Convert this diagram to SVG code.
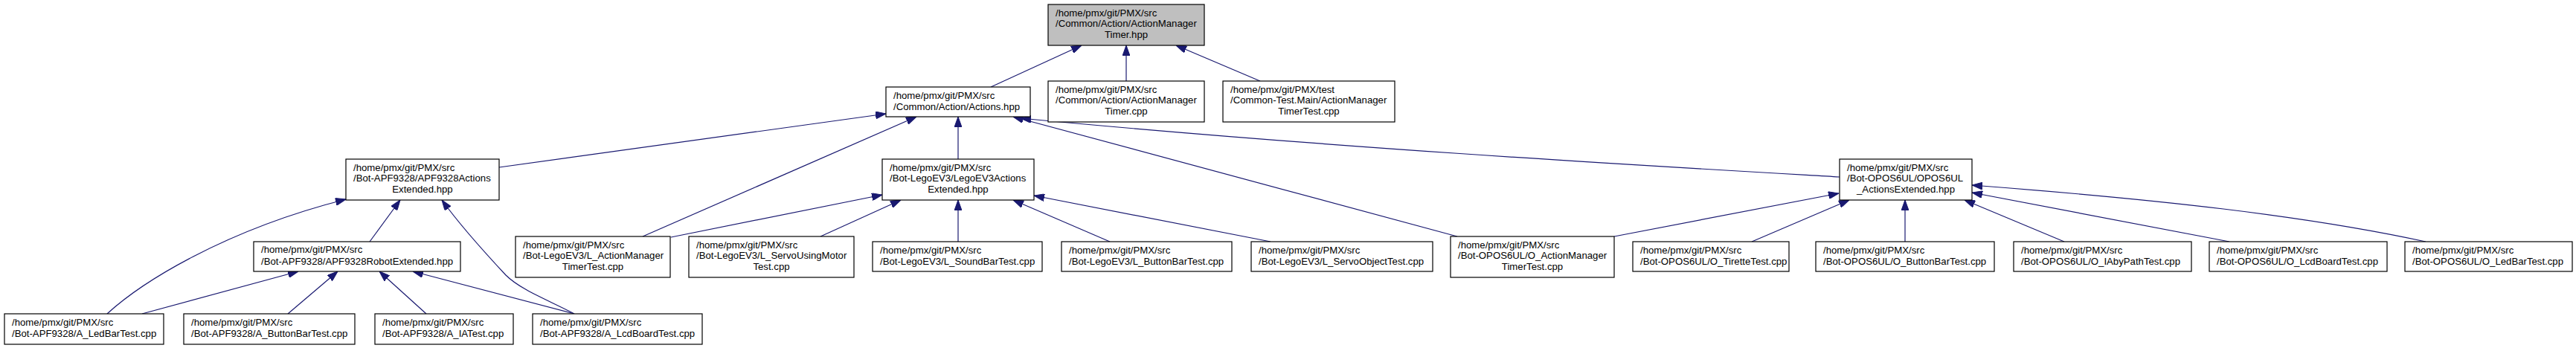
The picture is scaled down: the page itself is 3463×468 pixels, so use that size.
<svg xmlns="http://www.w3.org/2000/svg" width="3463" height="468" viewBox="0 0 3463 468">
<style>
.n rect{fill:#fff;stroke:#000;stroke-width:1.2}
.n.root rect{fill:#bfbfbf}
.n text{font-family:"Liberation Sans",Arial,Helvetica,sans-serif;font-size:13.2px;fill:#000}
.n text.c{text-anchor:middle}
#edges path{fill:none;stroke:#191970;stroke-width:1.2}
</style>
<defs>
<marker id="ah" markerUnits="userSpaceOnUse" markerWidth="14" markerHeight="10" viewBox="0 0 14 10" refX="14" refY="5" orient="auto">
<path d="M0,0 L14,5 L0,10 z" fill="#191970" stroke="#191970" stroke-width="1"/>
</marker>
</defs>
<rect width="3463" height="468" fill="#fff"/>
<g id="edges">
<path d="M1332,117 L1454,61" marker-end="url(#ah)"/>
<path d="M1514,109 L1514,61" marker-end="url(#ah)"/>
<path d="M1694,109 L1581,61" marker-end="url(#ah)"/>
<path d="M671,225 L1191,153" marker-end="url(#ah)"/>
<path d="M1288,214 L1288,157" marker-end="url(#ah)"/>
<path d="M864,318 L1232,157" marker-end="url(#ah)"/>
<path d="M1959,318 L1362,157" marker-end="url(#ah)"/>
<path d="M2473,238 C2250,225 1800,200 1372,159" marker-end="url(#ah)"/>
<path d="M902,319 L1186,262" marker-end="url(#ah)"/>
<path d="M1103,318 L1211,269" marker-end="url(#ah)"/>
<path d="M1288,325 L1288,269" marker-end="url(#ah)"/>
<path d="M1492,325 L1362,269" marker-end="url(#ah)"/>
<path d="M1708,325 L1390,263" marker-end="url(#ah)"/>
<path d="M497,325 L538,269" marker-end="url(#ah)"/>
<path d="M144,422 C190,380 300,310 465,268" marker-end="url(#ah)"/>
<path d="M772,422 C740,405 700,390 680,370 C652,340 620,305 594,269" marker-end="url(#ah)"/>
<path d="M191,422 L401,365" marker-end="url(#ah)"/>
<path d="M387,422 L454,365" marker-end="url(#ah)"/>
<path d="M573,422 L510,365" marker-end="url(#ah)"/>
<path d="M772,422 L555,365" marker-end="url(#ah)"/>
<path d="M2170,318 L2472,260" marker-end="url(#ah)"/>
<path d="M2355,325 L2486,269" marker-end="url(#ah)"/>
<path d="M2561,325 L2561,269" marker-end="url(#ah)"/>
<path d="M2775,325 L2641,269" marker-end="url(#ah)"/>
<path d="M2997,325 L2651,259" marker-end="url(#ah)"/>
<path d="M3261,325 C3100,290 2900,268 2651,249" marker-end="url(#ah)"/>
</g>
<g id="n_root" class="n root"><rect x="1409" y="6" width="210" height="55"/><text x="1419" y="21.5">/home/pmx/git/PMX/src</text><text x="1419" y="36">/Common/Action/ActionManager</text><text class="c" x="1514" y="50.5">Timer.hpp</text></g>
<g id="n_actions" class="n"><rect x="1191" y="117" width="194" height="40"/><text x="1201" y="132.5">/home/pmx/git/PMX/src</text><text x="1201" y="147.5">/Common/Action/Actions.hpp</text></g>
<g id="n_amtcpp" class="n"><rect x="1409" y="109" width="210" height="55"/><text x="1419" y="124.5">/home/pmx/git/PMX/src</text><text x="1419" y="139">/Common/Action/ActionManager</text><text class="c" x="1514" y="153.5">Timer.cpp</text></g>
<g id="n_commontest" class="n"><rect x="1644" y="109" width="231" height="55"/><text x="1654" y="124.5">/home/pmx/git/PMX/test</text><text x="1654" y="139">/Common-Test.Main/ActionManager</text><text class="c" x="1759.5" y="153.5">TimerTest.cpp</text></g>
<g id="n_apfactions" class="n"><rect x="465" y="214" width="206" height="55"/><text x="475" y="229.5">/home/pmx/git/PMX/src</text><text x="475" y="244">/Bot-APF9328/APF9328Actions</text><text class="c" x="568" y="258.5">Extended.hpp</text></g>
<g id="n_legoactions" class="n"><rect x="1186" y="214" width="204" height="55"/><text x="1196" y="229.5">/home/pmx/git/PMX/src</text><text x="1196" y="244">/Bot-LegoEV3/LegoEV3Actions</text><text class="c" x="1288" y="258.5">Extended.hpp</text></g>
<g id="n_oposactions" class="n"><rect x="2473" y="214" width="178" height="55"/><text x="2483" y="229.5">/home/pmx/git/PMX/src</text><text x="2483" y="244">/Bot-OPOS6UL/OPOS6UL</text><text class="c" x="2562" y="258.5">_ActionsExtended.hpp</text></g>
<g id="n_apfrobot" class="n"><rect x="341" y="325" width="278" height="40"/><text x="351" y="340">/home/pmx/git/PMX/src</text><text x="351" y="355.5">/Bot-APF9328/APF9328RobotExtended.hpp</text></g>
<g id="n_lamtt" class="n"><rect x="693" y="318" width="208" height="55"/><text x="703" y="333.5">/home/pmx/git/PMX/src</text><text x="703" y="348">/Bot-LegoEV3/L_ActionManager</text><text class="c" x="797" y="362.5">TimerTest.cpp</text></g>
<g id="n_lservomotor" class="n"><rect x="926" y="318" width="222" height="55"/><text x="936" y="333.5">/home/pmx/git/PMX/src</text><text x="936" y="348">/Bot-LegoEV3/L_ServoUsingMotor</text><text class="c" x="1037" y="362.5">Test.cpp</text></g>
<g id="n_lsound" class="n"><rect x="1173" y="325" width="228" height="40"/><text x="1183" y="340.5">/home/pmx/git/PMX/src</text><text x="1183" y="355.5">/Bot-LegoEV3/L_SoundBarTest.cpp</text></g>
<g id="n_lbutton" class="n"><rect x="1427" y="325" width="229" height="40"/><text x="1437" y="340.5">/home/pmx/git/PMX/src</text><text x="1437" y="355.5">/Bot-LegoEV3/L_ButtonBarTest.cpp</text></g>
<g id="n_lservoobj" class="n"><rect x="1682" y="325" width="244" height="40"/><text x="1692" y="340.5">/home/pmx/git/PMX/src</text><text x="1692" y="355.5">/Bot-LegoEV3/L_ServoObjectTest.cpp</text></g>
<g id="n_oamtt" class="n"><rect x="1950" y="318" width="220" height="55"/><text x="1960" y="333.5">/home/pmx/git/PMX/src</text><text x="1960" y="348">/Bot-OPOS6UL/O_ActionManager</text><text class="c" x="2060" y="362.5">TimerTest.cpp</text></g>
<g id="n_otirette" class="n"><rect x="2195" y="325" width="210" height="40"/><text x="2205" y="340.5">/home/pmx/git/PMX/src</text><text x="2205" y="355.5">/Bot-OPOS6UL/O_TiretteTest.cpp</text></g>
<g id="n_obutton" class="n"><rect x="2441" y="325" width="240" height="40"/><text x="2451" y="340.5">/home/pmx/git/PMX/src</text><text x="2451" y="355.5">/Bot-OPOS6UL/O_ButtonBarTest.cpp</text></g>
<g id="n_oiabypath" class="n"><rect x="2707" y="325" width="239" height="40"/><text x="2717" y="340.5">/home/pmx/git/PMX/src</text><text x="2717" y="355.5">/Bot-OPOS6UL/O_IAbyPathTest.cpp</text></g>
<g id="n_olcd" class="n"><rect x="2970" y="325" width="239" height="40"/><text x="2980" y="340.5">/home/pmx/git/PMX/src</text><text x="2980" y="355.5">/Bot-OPOS6UL/O_LcdBoardTest.cpp</text></g>
<g id="n_oled" class="n"><rect x="3233" y="325" width="225" height="40"/><text x="3243" y="340.5">/home/pmx/git/PMX/src</text><text x="3243" y="355.5">/Bot-OPOS6UL/O_LedBarTest.cpp</text></g>
<g id="n_aled" class="n"><rect x="6" y="422" width="214" height="41"/><text x="16" y="437.5">/home/pmx/git/PMX/src</text><text x="16" y="452.5">/Bot-APF9328/A_LedBarTest.cpp</text></g>
<g id="n_abutton" class="n"><rect x="247" y="422" width="230" height="41"/><text x="257" y="437.5">/home/pmx/git/PMX/src</text><text x="257" y="452.5">/Bot-APF9328/A_ButtonBarTest.cpp</text></g>
<g id="n_aia" class="n"><rect x="504" y="422" width="186" height="41"/><text x="514" y="437.5">/home/pmx/git/PMX/src</text><text x="514" y="452.5">/Bot-APF9328/A_IATest.cpp</text></g>
<g id="n_alcd" class="n"><rect x="716" y="422" width="228" height="41"/><text x="726" y="437.5">/home/pmx/git/PMX/src</text><text x="726" y="452.5">/Bot-APF9328/A_LcdBoardTest.cpp</text></g>
</svg>
